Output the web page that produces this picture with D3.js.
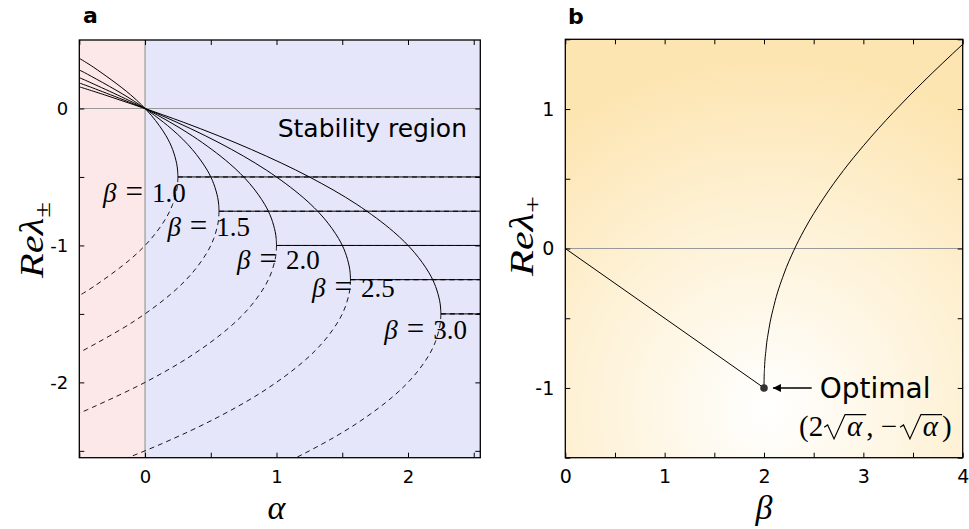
<!DOCTYPE html>
<html>
<head>
<meta charset="utf-8">
<script src="https://cdn.jsdelivr.net/npm/d3@7"></script>
<style>
body { margin: 0; background: #fff; }
text { font-family: "DejaVu Sans", sans-serif; fill: #000; }
.math { font-family: "Liberation Serif", serif; }
</style>
</head>
<body>
<svg width="969" height="529"></svg>
<script>
// ---- panel a: Re(lambda) against alpha, one curve per beta ----
var betas = [1.0, 1.5, 2.0, 2.5, 3.0];
var branchAlpha = [
  [0.25, 0.2475, 0.24, 0.21, 0.16, 0.0475, -0.11, -0.39, -0.5],
  [0.5625, 0.56, 0.5525, 0.5225, 0.4725, 0.36, 0.2025, -0.0775, -0.4375, -0.5],
  [1, 0.9975, 0.99, 0.96, 0.91, 0.7975, 0.64, 0.36, 0, -0.44, -0.5],
  [1.5625, 1.56, 1.5525, 1.5225, 1.4725, 1.36, 1.2025, 0.9225, 0.5625, 0.1225, -0.3975, -0.5],
  [2.25, 2.2475, 2.24, 2.21, 2.16, 2.0475, 1.89, 1.61, 1.25, 0.81, 0.29, -0.31, -0.5]
];
var upperLambda = [
  [-0.5, -0.45, -0.4, -0.3, -0.2, -0.05, 0.1, 0.3, 0.366],
  [-0.75, -0.7, -0.65, -0.55, -0.45, -0.3, -0.15, 0.05, 0.25, 0.281],
  [-1, -0.95, -0.9, -0.8, -0.7, -0.55, -0.4, -0.2, 0, 0.2, 0.225],
  [-1.25, -1.2, -1.15, -1.05, -0.95, -0.8, -0.65, -0.45, -0.25, -0.05, 0.15, 0.186],
  [-1.5, -1.45, -1.4, -1.3, -1.2, -1.05, -0.9, -0.7, -0.5, -0.3, -0.1, 0.1, 0.158]
];
var lowerLambda = [
  [-0.5, -0.55, -0.6, -0.7, -0.8, -0.95, -1.1, -1.3, -1.366],
  [-0.75, -0.8, -0.85, -0.95, -1.05, -1.2, -1.35, -1.55, -1.75, -1.781],
  [-1, -1.05, -1.1, -1.2, -1.3, -1.45, -1.6, -1.8, -2.0, -2.2, -2.225],
  [-1.25, -1.3, -1.35, -1.45, -1.55, -1.7, -1.85, -2.05, -2.25, -2.45, -2.65, -2.686],
  [-1.5, -1.55, -1.6, -1.7, -1.8, -1.95, -2.1, -2.3, -2.5, -2.7, -2.9, -3.1, -3.158]
];
// where each "beta = ..." label sits (data units, text start / baseline)
var labelAlpha = [-0.32, 0.17, 0.70, 1.27, 1.82];
var labelLambda = [-0.68, -0.93, -1.17, -1.38, -1.68];

var alphaTicks = [-0.5, 0, 0.5, 1, 1.5, 2, 2.5];
var alphaLabels = [0, 1, 2];
var lambdaTicks = [-2.5, -2, -1.5, -1, -0.5, 0];
var lambdaLabels = [-2, -1, 0];

// ---- panel b: Re(lambda+) against beta ----
var betaLinear = [0, 2];
var lambdaLinear = [0, -1];
var betaRoot = [2, 2.001, 2.005, 2.02, 2.05, 2.1, 2.2, 2.3, 2.4, 2.6, 2.8, 3.0, 3.3, 3.6, 4.0];
var lambdaRoot = [-1, -0.937, -0.861, -0.726, -0.575, -0.41, -0.183, -0.014, 0.127, 0.361, 0.56, 0.736, 0.975, 1.193, 1.464];
var optimal = [2, -1];

var betaTicks = [0, 0.5, 1, 1.5, 2, 2.5, 3, 3.5, 4];
var betaLabels = [0, 1, 2, 3, 4];
var lambdaTicksB = [-1.5, -1, -0.5, 0, 0.5, 1, 1.5];
var lambdaLabelsB = [-1, 0, 1];

var svg = d3.select("svg");
var defs = svg.append("defs");

var xa = d3.scaleLinear().domain([-0.5, 2.55]).range([79.3, 480.3]);
var ya = d3.scaleLinear().domain([-2.55, 0.5]).range([457.7, 40]);
var xb = d3.scaleLinear().domain([0, 4]).range([565.3, 962.7]);
var yb = d3.scaleLinear().domain([-1.5, 1.5]).range([457.7, 39.3]);

defs.append("clipPath").attr("id", "clip-a")
  .append("rect")
  .attr("x", xa.range()[0]).attr("y", ya.range()[1])
  .attr("width", xa.range()[1] - xa.range()[0])
  .attr("height", ya.range()[0] - ya.range()[1]);
defs.append("clipPath").attr("id", "clip-b")
  .append("rect")
  .attr("x", xb.range()[0]).attr("y", yb.range()[1])
  .attr("width", xb.range()[1] - xb.range()[0])
  .attr("height", yb.range()[0] - yb.range()[1]);

// radial glow for panel b, whitest near the optimum
var grad = defs.append("radialGradient").attr("id", "glow")
  .attr("gradientUnits", "userSpaceOnUse")
  .attr("cx", xb(2.05)).attr("cy", yb(-1.15)).attr("r", 350);
grad.append("stop").attr("offset", "0%").attr("stop-color", "#ffffff");
grad.append("stop").attr("offset", "45%").attr("stop-color", "#fef4dd");
grad.append("stop").attr("offset", "100%").attr("stop-color", "#fde5b2");

// ================= panel a =================
var ga = svg.append("g");
ga.append("rect")
  .attr("x", xa(-0.5)).attr("y", ya(0.5))
  .attr("width", xa(0) - xa(-0.5)).attr("height", ya(-2.55) - ya(0.5))
  .attr("fill", "#fde8e9");
ga.append("rect")
  .attr("x", xa(0)).attr("y", ya(0.5))
  .attr("width", xa(2.55) - xa(0)).attr("height", ya(-2.55) - ya(0.5))
  .attr("fill", "#e6e6fa");

ga.append("line")
  .attr("x1", xa(-0.5)).attr("x2", xa(2.55)).attr("y1", ya(0)).attr("y2", ya(0))
  .attr("stroke", "#999").attr("stroke-width", 1.2);
ga.append("line")
  .attr("x1", xa(0)).attr("x2", xa(0)).attr("y1", ya(0.5)).attr("y2", ya(-2.55))
  .attr("stroke", "#999").attr("stroke-width", 1.2);

var curve = d3.line()
  .x(function (d) { return xa(d[0]); })
  .y(function (d) { return ya(d[1]); })
  .curve(d3.curveCatmullRom.alpha(0.5));
var straight = d3.line()
  .x(function (d) { return xa(d[0]); })
  .y(function (d) { return ya(d[1]); });

var curves = ga.append("g").attr("clip-path", "url(#clip-a)");

betas.forEach(function (b, i) {
  var up = branchAlpha[i].map(function (a, k) { return [a, upperLambda[i][k]]; });
  var low = branchAlpha[i].map(function (a, k) { return [a, lowerLambda[i][k]]; });
  var vertex = up[0];
  var flat = [[vertex[0], vertex[1]], [2.55, vertex[1]]];

  // Re lambda+ (solid) and Re lambda- (dashed); they merge on the flat part
  curves.append("path").attr("d", curve(up))
    .attr("fill", "none").attr("stroke", "#000").attr("stroke-width", 1);
  curves.append("path").attr("d", straight(flat))
    .attr("fill", "none").attr("stroke", "#000").attr("stroke-width", 1);
  curves.append("path").attr("d", curve(low))
    .attr("fill", "none").attr("stroke", "#000").attr("stroke-width", 0.9)
    .attr("stroke-dasharray", "5,4");
  curves.append("path").attr("d", straight(flat))
    .attr("fill", "none").attr("stroke", "#000").attr("stroke-width", 1.1)
    .attr("stroke-dasharray", "5,4");
});

betas.forEach(function (b, i) {
  var t = ga.append("text").attr("class", "math")
    .attr("x", xa(labelAlpha[i])).attr("y", ya(labelLambda[i]))
    .attr("font-size", 27);
  t.append("tspan").attr("font-style", "italic").text("β");
  t.append("tspan").attr("dx", 9).attr("font-size", 31).text("=");
  t.append("tspan").attr("dx", 9).text(b.toFixed(1));
});

ga.append("text")
  .attr("x", 467).attr("y", ya(-0.21))
  .attr("text-anchor", "end").attr("font-size", 25)
  .text("Stability region");

function drawAxes(g, x, y, xt, xl, yt, yl, fs, pad) {
  var fmtX = function (d) { return xl.indexOf(d) >= 0 ? String(d) : ""; };
  var fmtY = function (d) { return yl.indexOf(d) >= 0 ? String(d) : ""; };
  var x0 = x.range()[0], x1 = x.range()[1], y0 = y.range()[0], y1 = y.range()[1];

  g.append("g").attr("transform", "translate(0," + y0 + ")")
    .call(d3.axisBottom(x).tickValues(xt).tickFormat(fmtX).tickSizeInner(-5).tickSizeOuter(0).tickPadding(pad));
  g.append("g").attr("transform", "translate(0," + y1 + ")")
    .call(d3.axisTop(x).tickValues(xt).tickFormat("").tickSizeInner(-5).tickSizeOuter(0));
  g.append("g").attr("transform", "translate(" + x0 + ",0)")
    .call(d3.axisLeft(y).tickValues(yt).tickFormat(fmtY).tickSizeInner(-5).tickSizeOuter(0).tickPadding(11));
  g.append("g").attr("transform", "translate(" + x1 + ",0)")
    .call(d3.axisRight(y).tickValues(yt).tickFormat("").tickSizeInner(-5).tickSizeOuter(0));

  g.selectAll(".domain").remove();
  g.selectAll(".tick line").attr("stroke", "#000").attr("stroke-width", 1);
  g.selectAll(".tick text").attr("font-family", "DejaVu Sans").attr("font-size", fs).attr("fill", "#000");

  g.append("rect").attr("x", x0).attr("y", y1)
    .attr("width", x1 - x0).attr("height", y0 - y1)
    .attr("fill", "none").attr("stroke", "#000").attr("stroke-width", 1.3);
}

drawAxes(ga, xa, ya, alphaTicks, alphaLabels, lambdaTicks, lambdaLabels, 18, 13);

ga.append("text").attr("x", 83).attr("y", 23)
  .attr("font-size", 22).attr("font-weight", "bold").text("a");

ga.append("text").attr("class", "math")
  .attr("x", xa(1.0)).attr("y", 519)
  .attr("text-anchor", "middle").attr("font-size", 34).attr("font-style", "italic")
  .text("α");

var yla = ga.append("text").attr("class", "math")
  .attr("transform", "translate(43,240) rotate(-90)")
  .attr("text-anchor", "middle").attr("font-size", 34).attr("font-style", "italic")
  .attr("textLength", 76).attr("lengthAdjust", "spacingAndGlyphs");
yla.append("tspan").text("Reλ");
yla.append("tspan").attr("font-size", 24).attr("font-style", "normal").attr("dy", 7).text("±");

// ================= panel b =================
var gb = svg.append("g");
gb.append("rect")
  .attr("x", xb(0)).attr("y", yb(1.5))
  .attr("width", xb(4) - xb(0)).attr("height", yb(-1.5) - yb(1.5))
  .attr("fill", "url(#glow)");

gb.append("line")
  .attr("x1", xb(0)).attr("x2", xb(4)).attr("y1", yb(0)).attr("y2", yb(0))
  .attr("stroke", "#999").attr("stroke-width", 1.2);

var lineB = d3.line()
  .x(function (d) { return xb(d[0]); })
  .y(function (d) { return yb(d[1]); });

var curvesB = gb.append("g").attr("clip-path", "url(#clip-b)");
curvesB.append("path")
  .attr("d", lineB(betaLinear.map(function (b, k) { return [b, lambdaLinear[k]]; })))
  .attr("fill", "none").attr("stroke", "#000").attr("stroke-width", 1);
curvesB.append("path")
  .attr("d", lineB.curve(d3.curveMonotoneX)(betaRoot.map(function (b, k) { return [b, lambdaRoot[k]]; })))
  .attr("fill", "none").attr("stroke", "#000").attr("stroke-width", 1);

gb.append("circle")
  .attr("cx", xb(optimal[0])).attr("cy", yb(optimal[1])).attr("r", 3.8)
  .attr("fill", "#333");

defs.append("marker").attr("id", "head")
  .attr("viewBox", "0 0 10 10").attr("refX", 10).attr("refY", 5)
  .attr("markerWidth", 11).attr("markerHeight", 8).attr("markerUnits", "userSpaceOnUse")
  .attr("orient", "auto")
  .append("path").attr("d", "M0,0L10,5L0,10z").attr("fill", "#000");

gb.append("line")
  .attr("x1", xb(2.48)).attr("y1", yb(optimal[1]))
  .attr("x2", xb(2.09)).attr("y2", yb(optimal[1]))
  .attr("stroke", "#000").attr("stroke-width", 1.6)
  .attr("marker-end", "url(#head)");

gb.append("text")
  .attr("x", xb(2.56)).attr("y", yb(optimal[1]) + 10)
  .attr("font-size", 28).text("Optimal");

// (2 sqrt(alpha), -sqrt(alpha)) laid out piece by piece, radicals drawn as paths
var fsz = 29, fy = 436, cursor = 799;
var formula = gb.append("g");
function piece(str, italic) {
  var t = formula.append("text").attr("class", "math")
    .attr("x", cursor).attr("y", fy).attr("font-size", fsz).text(str);
  if (italic) t.attr("font-style", "italic");
  cursor += t.node().getComputedTextLength();
}
function radical(inner) {
  var rx = cursor + 1;
  cursor += 0.82 * fsz;
  piece(inner, true);
  cursor += 4;
  var top = fy - 0.74 * fsz;
  formula.append("path")
    .attr("d", "M" + rx + "," + (fy - 0.3 * fsz) +
      "L" + (rx + 0.12 * fsz) + "," + (fy - 0.38 * fsz) +
      "L" + (rx + 0.34 * fsz) + "," + (fy + 0.1 * fsz) +
      "L" + (rx + 0.72 * fsz) + "," + top +
      "L" + cursor + "," + top)
    .attr("fill", "none").attr("stroke", "#000").attr("stroke-width", 1.2);
}
piece("(2");
radical("α");
piece(", \u2212");
cursor += 2;
radical("α");
piece(")");

drawAxes(gb, xb, yb, betaTicks, betaLabels, lambdaTicksB, lambdaLabelsB, 19, 12);

gb.append("text").attr("x", 568).attr("y", 24)
  .attr("font-size", 22).attr("font-weight", "bold").text("b");

gb.append("text").attr("class", "math")
  .attr("x", xb(2)).attr("y", 519)
  .attr("text-anchor", "middle").attr("font-size", 34).attr("font-style", "italic")
  .text("β");

var ylb = gb.append("text").attr("class", "math")
  .attr("transform", "translate(533,236) rotate(-90)")
  .attr("text-anchor", "middle").attr("font-size", 34).attr("font-style", "italic")
  .attr("textLength", 80).attr("lengthAdjust", "spacingAndGlyphs");
ylb.append("tspan").text("Reλ");
ylb.append("tspan").attr("font-size", 24).attr("font-style", "normal").attr("dy", 7).text("+");
</script>
</body>
</html>
